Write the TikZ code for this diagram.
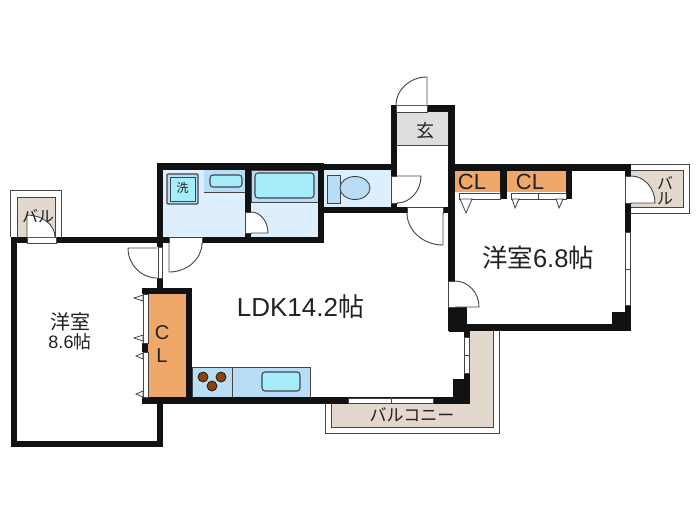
\documentclass[tikz,border=0pt]{standalone}
\usepackage{fontspec}
\usetikzlibrary{calc}
\setmainfont{Liberation Sans}
\newfontfamily\jpfont{Noto Sans CJK JP}
\definecolor{wallc}{HTML}{111111}
\definecolor{linec}{HTML}{444444}
\definecolor{roomblue}{HTML}{DDEFFD}
\definecolor{panelblue}{HTML}{B9DCF7}
\definecolor{cyanfix}{HTML}{A5EDFB}
\definecolor{clorange}{HTML}{F0A86A}
\definecolor{baltan}{HTML}{E2D8CE}
\definecolor{genkan}{HTML}{DEDEDE}
\definecolor{burner}{HTML}{8B4209}
\definecolor{txt}{HTML}{222222}
\tikzset{
  wall/.style={fill=wallc,draw=none},
  thinline/.style={draw=linec,line width=0.9pt},
  opening/.style={fill=white,draw=linec,line width=0.7pt},
  leaf/.style={draw=linec,line width=0.9pt,fill=white},
  tri/.style={fill=white,draw=linec,line width=0.8pt,line join=miter},
  fixture/.style={fill=cyanfix,draw=linec,line width=1.1pt,rounded corners=3pt},
  panel/.style={fill=panelblue,draw=linec,line width=0.7pt},
  label/.style={inner sep=0pt,text=txt,font=\jpfont},
  latin/.style={inner sep=0pt,text=txt}
}
% door: hinge, leaf tip, corner of the swing square, closing point
\newcommand{\doorswing}[4]{\draw[leaf] (#1) -- (#2) .. controls ($(#2)!.55!(#3)$) and ($(#4)!.55!(#3)$) .. (#4);}
\begin{document}
\begin{tikzpicture}[x=1pt,y=-1pt]
\useasboundingbox (0,0) rectangle (700,525);
\fill[white] (0,0) rectangle (700,525);
% balconies
\draw[thinline,fill=white] (10,237) -- (10,190) -- (61,190) -- (61,237);
\fill[baltan,draw=linec,line width=0.8pt] (17,237) -- (17,197) -- (55,197) -- (55,237);
\draw[thinline,fill=white] (631,164) -- (689,164) -- (689,213) -- (631,213);
\fill[baltan,draw=linec,line width=0.8pt] (631,170) -- (683,170) -- (683,207) -- (631,207);
\draw[thinline,fill=white] (325,404) -- (325,433) -- (499,433) -- (499,331);
\fill[baltan] (331,404) -- (470,404) -- (470,331) -- (493,331) -- (493,427) -- (331,427) -- cycle;
\draw[draw=linec,line width=0.9pt] (331,404) -- (331,427) -- (493,427) -- (493,331);
% room fills
\fill[roomblue] (163,170) rectangle (245,237);
\fill[roomblue] (251,170) rectangle (318,237);
\fill[roomblue] (324,170) rectangle (391,207);
\fill[genkan] (397,112) rectangle (448,145);
\draw[thinline] (397,145) -- (448,145);
\fill[clorange] (455,171) rectangle (500,192);
\fill[clorange] (507,171) rectangle (566,192);
\fill[clorange] (148,294) rectangle (186,397);
% fixtures
\draw[panel] (204,170) -- (204,192) -- (245,192);
\fill[panelblue] (204.4,170) rectangle (245,191.6);
\draw[fixture] (210,175) rectangle (242,187);
\fill[panelblue,draw=linec,line width=0.7pt] (251,170) rectangle (318,202);
\draw[fixture] (255,173) rectangle (314,198);
\draw[fill=panelblue,draw=linec,line width=1.1pt,rounded corners=1pt] (167,174) rectangle (198,204);
\draw[fill=cyanfix,draw=linec,line width=0.7pt] (170,177) rectangle (195,201);
\node[label,font=\jpfont\fontsize{12}{12}\selectfont] (wash) at (182.5,188) {洗};
\draw[panel] (327,175) rectangle (340,203);
\draw[fill=panelblue,draw=linec,line width=0.9pt] (355,188) ellipse [x radius=15,y radius=11.5];
\draw[panel] (192,367) rectangle (310,397);
\draw[draw=linec,line width=0.8pt] (232,367) -- (232,397);
\foreach \cx/\cy in {203/377,221/377,212/386}
  \draw[fill=burner,draw=wallc,line width=0.7pt] (\cx,\cy) circle (5);
\draw[fixture] (262,372) rectangle (300,391);
% walls
\fill[wall] (11,237) rectangle (163,243);
\fill[wall] (11,237) rectangle (17,447);
\fill[wall] (11,441) rectangle (163,447);
\fill[wall] (157,404) rectangle (163,447);
\fill[wall] (157,163) rectangle (163,247);
\fill[wall] (157,278) rectangle (163,290);
\fill[wall] (157,163) rectangle (324,170);
\fill[wall] (157,237) rectangle (324,243);
\fill[wall] (245,163) rectangle (251,243);
\fill[wall] (318,163) rectangle (324,243);
\fill[wall] (318,164) rectangle (397,170);
\fill[wall] (318,207) rectangle (455,213);
\fill[wall] (391,105) rectangle (397,213);
\fill[wall] (391,105) rectangle (455,112);
\fill[wall] (448,105) rectangle (455,331);
\fill[wall] (448,164) rectangle (631,171);
\fill[wall] (500,164) rectangle (507,199);
\fill[wall] (566,164) rectangle (572,199);
\fill[wall] (625,164) rectangle (631,331);
\fill[wall] (448,324) rectangle (631,331);
\fill[wall] (612,312) rectangle (625,324);
\fill[wall] (449,307) rectangle (467,332);
\fill[wall] (464,331) rectangle (470,404);
\fill[wall] (453,379) rectangle (470,404);
\fill[wall] (142,397) rectangle (470,404);
\fill[wall] (142,288) rectangle (192,294);
\fill[wall] (186,288) rectangle (192,404);
\fill[wall] (142,343) rectangle (148,352);
\fill[wall] (142,288) rectangle (148,294);
% wall openings: doors
\draw[opening] (27,237) rectangle (56,243);
\draw[opening] (169,237) rectangle (202,243);
\draw[opening] (158,247) rectangle (162,278);
\draw[opening] (245,212) rectangle (251,233);
\draw[opening] (396,105) rectangle (427,112);
\draw[opening] (391,176) rectangle (397,203);
\draw[opening] (407,207) rectangle (443,213);
\draw[opening] (625,176) rectangle (631,203);
\draw[opening] (448,281) rectangle (455,307);
% windows
\draw[opening] (625,232) rectangle (630,305);
\draw[thinline] (625,269) -- (630,269);
\draw[opening] (464.5,337) rectangle (469.5,373);
\draw[thinline] (464.5,355) -- (469.5,355);
\draw[opening] (348,398) rectangle (433,403);
\draw[thinline] (391,397) -- (391,404);
% closet fronts
\draw[opening] (459,193) rectangle (500,199);
\draw[opening] (511,193) rectangle (566,199);
\draw[thinline] (538,193) -- (538,199);
\draw[opening] (143,294) rectangle (148,343);
\draw[opening] (143,352) rectangle (148,397);
% closet door triangles
\draw[tri] (460,199) -- (472,199) -- (466,213) -- cycle;
\draw[tri] (512,199) -- (519,199) -- (515,208) -- cycle;
\draw[tri] (556,199) -- (563,199) -- (559,208) -- cycle;
\draw[tri] (143,295) -- (143,301) -- (134,298) -- cycle;
\draw[tri] (143,335) -- (143,341) -- (134,338) -- cycle;
\draw[tri] (143,353) -- (143,359) -- (136,356) -- cycle;
\draw[tri] (143,391) -- (143,397) -- (136,394) -- cycle;
% door leaves
\doorswing{27,237}{27,215}{55,215}{55,237}
\doorswing{157,248}{128,248}{128,278}{157,278}
\doorswing{169,243}{169,272}{202,272}{202,243}
\doorswing{251,233}{268,233}{268,212}{251,212}
\doorswing{427,105}{427,77}{396,77}{396,105}
\doorswing{397,176}{421,176}{421,203}{397,203}
\doorswing{443,213}{443,245}{407,245}{407,213}
\doorswing{631,203}{655,203}{655,176}{631,176}
\doorswing{455,307}{479,307}{479,281}{455,281}
% labels
\node[label,font=\jpfont\fontsize{18}{18}\selectfont] (entry) at (425,131) {玄};
\node[latin,font=\fontsize{22}{22}\selectfont] (cla) at (472,182) {CL};
\node[latin,font=\fontsize{22}{22}\selectfont] (clb) at (530,182) {CL};
\node[latin,font=\fontsize{20}{20}\selectfont] (clc) at (162,333) {C};
\node[latin,font=\fontsize{20}{20}\selectfont] (cld) at (162,356) {L};
\node[label,font=\fontsize{26}{26}\selectfont] (ldk) at (300.5,307) {LDK14.2{\jpfont 帖}};
\node[label,font=\fontsize{25.5}{25.5}\selectfont] (roomb) at (538,258) {{\jpfont 洋室}6.8{\jpfont 帖}};
\node[label,font=\jpfont\fontsize{20}{20}\selectfont] (rooma) at (70,322) {洋室};
\node[latin,font=\fontsize{18}{18}\selectfont] (roomc) at (70,342) {8.6{\jpfont 帖}};
\node[label,font=\jpfont\fontsize{17}{17}\selectfont] (balc) at (412,415) {バルコニー};
\node[label,font=\jpfont\fontsize{16}{16}\selectfont] (bala) at (38,216) {バル};
\node[label,font=\jpfont\fontsize{16}{16}\selectfont] (balb) at (665,183) {バ};
\node[label,font=\jpfont\fontsize{16}{16}\selectfont] (balbb) at (665,199) {ル};
\end{tikzpicture}
\end{document}
